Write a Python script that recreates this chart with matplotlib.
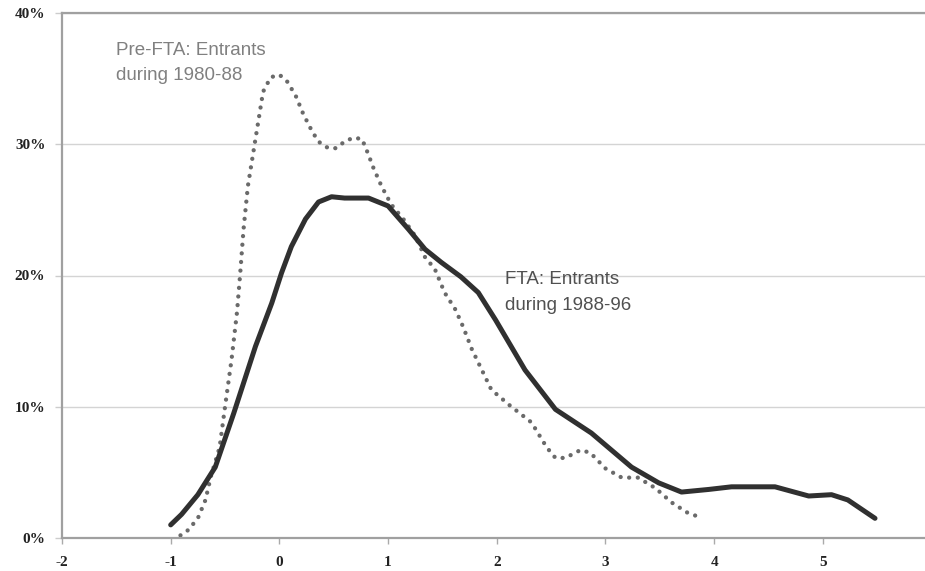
import matplotlib
matplotlib.use("Agg")
import matplotlib.pyplot as plt
from matplotlib.ticker import FuncFormatter

# %% data (x in units, y in percent)
fta_x = [-1.0, -0.9, -0.75, -0.59, -0.42, -0.22, -0.07, 0.02, 0.11, 0.24,
         0.36, 0.48, 0.6, 0.82, 1.0, 1.19, 1.34, 1.49, 1.67, 1.83, 1.99,
         2.26, 2.54, 2.87, 3.24, 3.49, 3.7, 3.95, 4.16, 4.56, 4.87, 5.08,
         5.23, 5.48]
fta_y = [1.0, 1.8, 3.3, 5.4, 9.5, 14.6, 17.9, 20.2, 22.2, 24.3,
         25.6, 26.0, 25.9, 25.9, 25.3, 23.5, 22.0, 21.0, 19.9, 18.7, 16.6,
         12.8, 9.8, 8.0, 5.4, 4.2, 3.5, 3.7, 3.9, 3.9, 3.2, 3.3,
         2.9, 1.5]

pre_x = [-0.91, -0.84, -0.75, -0.68, -0.63, -0.55, -0.5, -0.44, -0.39, -0.36,
         -0.33, -0.29, -0.22, -0.15, -0.08, 0.0, 0.07, 0.15, 0.22, 0.3, 0.36,
         0.45, 0.52, 0.6, 0.68, 0.76, 0.82, 0.86, 0.94, 1.03, 1.15, 1.25, 1.34,
         1.43, 1.52, 1.62, 1.69, 1.77, 1.95, 2.12, 2.32, 2.46, 2.54, 2.63,
         2.77, 2.86, 3.0, 3.15, 3.3, 3.46, 3.61, 3.76, 3.9]
pre_y = [0.2, 0.6, 1.5, 2.9, 4.7, 6.9, 10.0, 13.6, 17.2, 20.2,
         23.5, 26.8, 30.4, 34.0, 35.1, 35.3, 34.8, 33.7, 32.3, 31.0, 30.2,
         29.7, 29.7, 30.2, 30.5, 30.4, 29.2, 28.3, 26.8, 25.4, 24.2, 23.0, 21.4,
         20.5, 18.7, 17.4, 16.1, 14.4, 11.3, 10.1, 8.8, 6.9, 6.1, 6.1,
         6.7, 6.5, 5.3, 4.6, 4.6, 3.8, 2.7, 1.9, 1.5]

xticks = [-2, -1, 0, 1, 2, 3, 4, 5]
yticks = [0, 10, 20, 30, 40]

# %% figure
fig = plt.figure(figsize=(9.25, 5.71), dpi=100)
ax = fig.add_axes([62 / 925, 1 - 538 / 571, 1 - 62 / 925, (538 - 13) / 571])

ax.plot(fta_x, fta_y, color="#303030", lw=3.6, solid_capstyle="round",
        solid_joinstyle="round", zorder=3)
ax.plot(pre_x, pre_y, color="#6a6a6a", lw=3.1, linestyle=(0, (0.01, 2.0)),
        dash_capstyle="round", zorder=2)

ax.set_xlim(-2, 5.94)
ax.set_ylim(0, 40)
ax.set_xticks(xticks)
ax.set_yticks(yticks)
ax.xaxis.set_major_formatter(FuncFormatter(lambda v, p: "%d" % v))
ax.yaxis.set_major_formatter(FuncFormatter(lambda v, p: "%d%%" % v))

for t in ax.get_xticklabels() + ax.get_yticklabels():
    t.set_fontfamily("Liberation Serif")
    t.set_fontweight("bold")
    t.set_fontsize(11)
    t.set_color("#222222")

ax.tick_params(axis="x", length=4, width=1, color="#aaaaaa", pad=9)
ax.tick_params(axis="y", length=5, width=1, color="#cccccc", pad=7)

ax.grid(axis="y", color="#d4d4d4", lw=1)
ax.set_axisbelow(True)
ax.spines["right"].set_visible(False)
for side in ["left", "bottom", "top"]:
    ax.spines[side].set_color("#a0a0a0")
    ax.spines[side].set_linewidth(1.6)

ax.text(-1.5, 36.2, "Pre-FTA: Entrants\nduring 1980-88", fontsize=13.5,
        family="Liberation Sans", color="#808080", va="center",
        linespacing=1.65)
ax.text(2.08, 18.7, "FTA: Entrants\nduring 1988-96", fontsize=13.5,
        family="Liberation Sans", color="#505050", va="center",
        linespacing=1.65)

fig.savefig("out.png", dpi=100)
